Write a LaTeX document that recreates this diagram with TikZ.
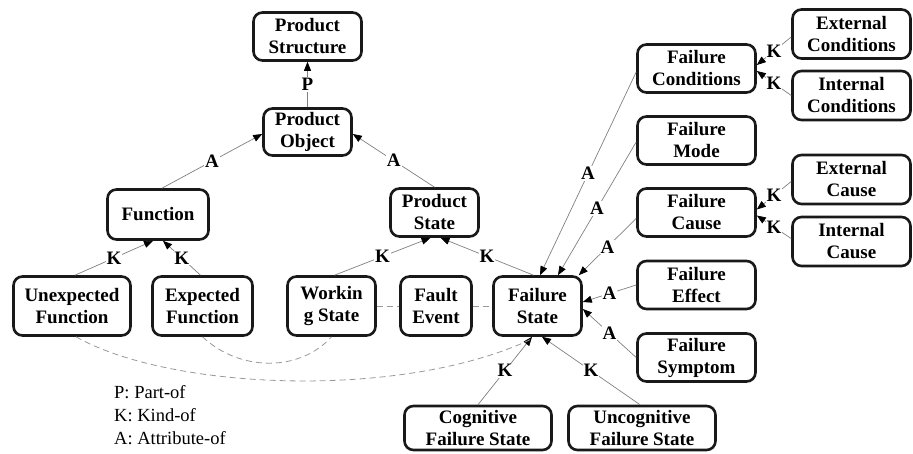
\documentclass[tikz,border=0pt]{standalone}
\usepackage{fontspec}
\setmainfont{Liberation Serif}
\usetikzlibrary{arrows.meta}
\begin{document}
\begin{tikzpicture}[x=1pt,y=-1pt,
  box/.style 2 args={draw=black!90, line width=2.6pt, rounded corners=9pt,
    align=center, inner sep=0pt, minimum width=#1pt, minimum height=#2pt,
    font=\fontsize{19}{22}\selectfont\bfseries},
  rel/.style={draw=black!50, line width=0.7pt,
    -{Triangle[length=9pt,width=7pt,color=black]}},
  tag/.style={fill=white, inner sep=1pt,
    font=\fontsize{19}{22}\selectfont\bfseries},
  link/.style={draw=black!40, line width=0.8pt, dash pattern=on 6pt off 4pt},
  legend/.style={anchor=base west, inner sep=0pt,
    font=\fontsize{18.5}{22}\selectfont},
]
\useasboundingbox (0,0) rectangle (913,454);

% product side
\node[box={108}{48}] (ps)  at (307.5,36.5) {Product\\Structure};
\node[box={88}{47}]  (po)  at (307.5,132)  {Product\\Object};
\node[box={101}{50}] (fun) at (158,214.5)  {Function};
\node[box={88}{48}]  (pst) at (434.5,212.5) {Product\\State};
\node[box={117}{59}] (uf)  at (72,306)     {Unexpected\\Function};
\node[box={100}{59}] (ef)  at (202.5,306)  {Expected\\Function};
\node[box={88}{59}]  (ws)  at (331.5,306)  {Workin\\g State};
\node[box={71}{59}]  (fe)  at (436,306)    {Fault\\Event};
\node[box={88}{59}]  (fs)  at (537.5,306)  {Failure\\State};

% failure attributes
\node[box={118}{48}] (fcond)  at (696.5,68.5)  {Failure\\Conditions};
\node[box={118}{48}] (fmode)  at (696.5,140.5) {Failure\\Mode};
\node[box={118}{48}] (fcause) at (696.5,212.5) {Failure\\Cause};
\node[box={118}{48}] (feff)   at (696.5,285)   {Failure\\Effect};
\node[box={118}{48}] (fsym)   at (696.5,357.5) {Failure\\Symptom};

\node[box={118}{49}] (extc)  at (851.5,34)    {External\\Conditions};
\node[box={118}{49}] (intc)  at (851.5,95.5)  {Internal\\Conditions};
\node[box={118}{49}] (extca) at (851.5,179.5) {External\\Cause};
\node[box={118}{49}] (intca) at (851.5,241.5) {Internal\\Cause};

\node[box={147}{44}] (cfs) at (478,428) {Cognitive\\Failure State};
\node[box={147}{44}] (ufs) at (642,428) {Uncognitive\\Failure State};

% relations
\draw[rel] (po.north) -- node[tag]{P} (ps.south);
\draw[rel] ([xshift=4pt]fun.north) -- node[tag]{A} ([yshift=-2pt]po.west);
\draw[rel] (pst.north) -- node[tag]{A} ([yshift=-2pt]po.east);
\draw[rel] ([xshift=3pt]uf.north) -- node[tag]{K} ([xshift=-5pt]fun.south);
\draw[rel] ([xshift=-2pt]ef.north) -- node[tag]{K} ([xshift=5pt]fun.south);
\draw[rel] ([xshift=3pt]ws.north) -- node[tag]{K} ([xshift=-4pt]pst.south);
\draw[rel] ([xshift=-4pt]fs.north) -- node[tag]{K} ([xshift=6pt]pst.south);

\draw[rel] ([yshift=-3.5pt]fcond.west) -- node[tag]{A} ([xshift=2.5pt]fs.north);
\draw[rel] ([yshift=-1.5pt]fmode.west) -- node[tag]{A} ([xshift=20.5pt]fs.north);
\draw[rel] ([yshift=-6pt]fcause.west) -- node[tag]{A} ([xshift=-4pt]fs.north east);
\draw[rel] (feff.west) -- node[tag]{A} ([yshift=4pt]fs.east);
\draw[rel] (fsym.west) -- node[tag]{A} ([yshift=-3pt]fs.east);
\draw[rel] (cfs.north) -- node[tag]{K} ([xshift=-5.5pt]fs.south);
\draw[rel] ([xshift=-2pt]ufs.north) -- node[tag]{K} ([xshift=4.5pt]fs.south);

\draw[rel] ([yshift=-3pt]extc.west) -- node[tag]{K} ([yshift=3.5pt]fcond.east);
\draw[rel] (intc.west) -- node[tag]{K} ([yshift=-2.5pt]fcond.east);
\draw[rel] ([yshift=-2pt]extca.west) -- node[tag]{K} ([yshift=3pt]fcause.east);
\draw[rel] ([yshift=3pt]intca.west) -- node[tag]{K} ([yshift=-3pt]fcause.east);

% dashed associations
\draw[link] (ws.east) -- (fe.west);
\draw[link] (fe.east) -- (fs.west);
\draw[link] (ef.south) .. controls (240,372) and (300,372) .. (ws.south);
\draw[link] ([xshift=4pt]uf.south) .. controls (170,390) and (400,400)
  .. ([xshift=-7.5pt,yshift=-3pt]fs.south);

% legend
\node[legend] (lp) at (114,398) {P: Part-of};
\node[legend] (lk) at (114,421) {K: Kind-of};
\node[legend] (la) at (114,444) {A: Attribute-of};
\end{tikzpicture}
\end{document}
